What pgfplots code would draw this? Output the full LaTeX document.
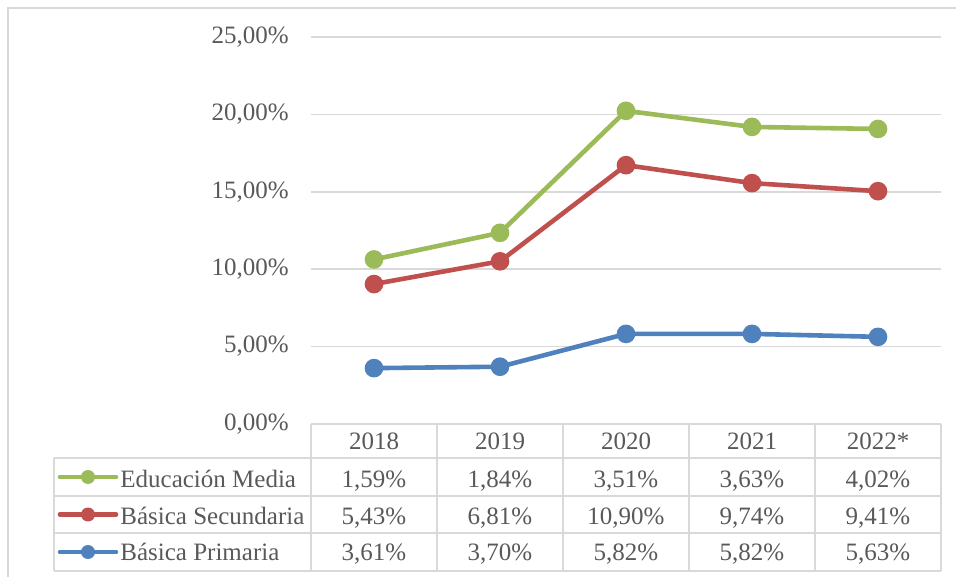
\documentclass[border=0pt]{standalone}
\usepackage{fontspec}
\setmainfont{Liberation Serif}
\usepackage{pgfplots}
\pgfplotsset{compat=1.18}
\definecolor{cgreen}{HTML}{9BBB59}
\definecolor{cred}{HTML}{C0504D}
\definecolor{cblue}{HTML}{4F81BD}
\definecolor{txt}{HTML}{595959}
\definecolor{grid}{HTML}{D9D9D9}
\begin{document}
\begin{tikzpicture}[font=\fontsize{12.5}{15}\selectfont]
\useasboundingbox (-155.5pt,-76.5pt) rectangle (322.5pt,212pt);
% outer frame
\draw[grid, line width=0.75pt] (-151.5pt,-76.5pt) -- (-151.5pt,208pt) -- (322.5pt,208pt);
\begin{axis}[
  at={(0pt,0pt)}, anchor=south west,
  scale only axis, width=315pt, height=193.5pt,
  xmin=-0.5, xmax=4.5, ymin=0, ymax=25,
  axis line style={draw=none},
  xtick=\empty,
  ytick={0,5,10,15,20,25},
  yticklabels={{0,00\%},{5,00\%},{10,00\%},{15,00\%},{20,00\%},{25,00\%}},
  y tick label style={anchor=east, inner sep=0pt, xshift=-11pt, text=txt, font=\fontsize{12.5}{15}\selectfont},
  ytick style={draw=none},
  ymajorgrids, major grid style={draw=grid, line width=0.75pt},
  stack plots=y,
  clip=false,
  every axis plot/.append style={line width=2.3pt, mark=*, mark size=3.5pt},
]
\addplot[cblue, mark options={fill=cblue, draw=cblue}] coordinates {(0,3.61) (1,3.70) (2,5.82) (3,5.82) (4,5.63)};
\addplot[cred, mark options={fill=cred, draw=cred}] coordinates {(0,5.43) (1,6.81) (2,10.90) (3,9.74) (4,9.41)};
\addplot[cgreen, mark options={fill=cgreen, draw=cgreen}] coordinates {(0,1.59) (1,1.84) (2,3.51) (3,3.63) (4,4.02)};
\end{axis}
% data table
\begin{scope}[grid, line width=0.75pt]
\draw (0pt,0pt) -- (315pt,0pt);
\draw (-128.5pt,-17pt) -- (315pt,-17pt);
\draw (-128.5pt,-36pt) -- (315pt,-36pt);
\draw (-128.5pt,-54.5pt) -- (315pt,-54.5pt);
\draw (-128.5pt,-73.5pt) -- (315pt,-73.5pt);
\draw (-128.5pt,-17pt) -- (-128.5pt,-73.5pt);
\foreach \x in {0,63,126,189,252,315} \draw (\x pt,0pt) -- (\x pt,-73.5pt);
\end{scope}
\begin{scope}[every node/.style={anchor=base, inner sep=0pt, text=txt}]
\foreach \x/\s in {31.5/2018,94.5/2019,157.5/2020,220.5/2021,283.5/2022*} \node at (\x pt,-12.65pt) {\s};
\foreach \x/\s in {31.5/{1,59\%},94.5/{1,84\%},157.5/{3,51\%},220.5/{3,63\%},283.5/{4,02\%}} \node at (\x pt,-31.7pt) {\s};
\foreach \x/\s in {31.5/{5,43\%},94.5/{6,81\%},157.5/{10,90\%},220.5/{9,74\%},283.5/{9,41\%}} \node at (\x pt,-50.2pt) {\s};
\foreach \x/\s in {31.5/{3,61\%},94.5/{3,70\%},157.5/{5,82\%},220.5/{5,82\%},283.5/{5,63\%}} \node at (\x pt,-68.3pt) {\s};
\node[anchor=base west] at (-95.5pt,-31.7pt) {Educación Media};
\node[anchor=base west] at (-95.5pt,-50.2pt) {Básica Secundaria};
\node[anchor=base west] at (-95.5pt,-68.3pt) {Básica Primaria};
\end{scope}
% legend keys
\draw[cgreen, line width=2.3pt, line cap=round] (-125.5pt,-26.5pt) -- (-97.5pt,-26.5pt);
\fill[cgreen] (-111.5pt,-26.5pt) circle (3.5pt);
\draw[cred, line width=2.3pt, line cap=round] (-125.5pt,-45.25pt) -- (-97.5pt,-45.25pt);
\fill[cred] (-111.5pt,-45.25pt) circle (3.5pt);
\draw[cblue, line width=2.3pt, line cap=round] (-125.5pt,-64pt) -- (-97.5pt,-64pt);
\fill[cblue] (-111.5pt,-64pt) circle (3.5pt);
\end{tikzpicture}
\end{document}
